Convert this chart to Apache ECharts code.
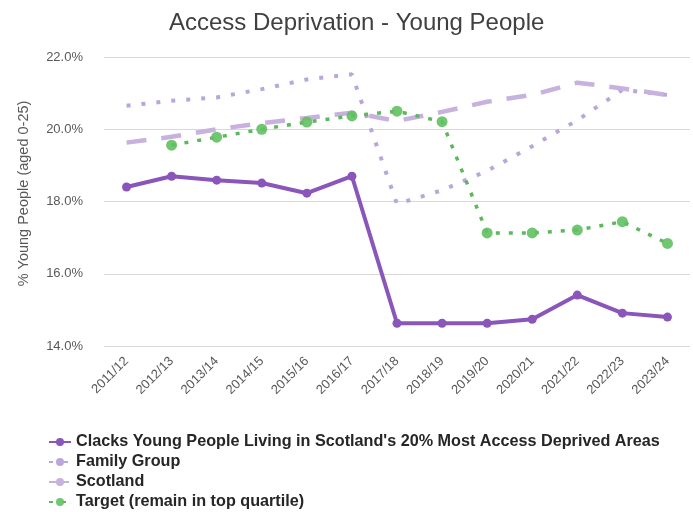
<!DOCTYPE html>
<html>
<head>
<meta charset="utf-8">
<script src="https://cdn.jsdelivr.net/npm/echarts@6/dist/echarts.min.js"></script>
<style>html,body{margin:0;padding:0;background:#fff}#c{width:693px;height:512px}</style>
</head>
<body>
<div id="c"></div>
<script>
var categories = ['2011/12','2012/13','2013/14','2014/15','2015/16','2016/17','2017/18','2018/19','2019/20','2020/21','2021/22','2022/23','2023/24'];
var clacks = [18.40, 18.70, 18.59, 18.51, 18.23, 18.70, 14.63, 14.63, 14.63, 14.74, 15.41, 14.91, 14.80];
var familyGroup = [20.65, 20.79, 20.88, 21.11, 21.38, 21.52, 17.93, 18.31, 18.85, 19.53, 20.25, 21.09, 20.95];
var scotland = [19.63, 19.79, 20.00, 20.17, 20.31, 20.46, 20.23, 20.48, 20.76, 20.95, 21.29, 21.13, 20.95];
var target = [null, 19.56, 19.78, 20.00, 20.20, 20.37, 20.50, 20.21, 17.13, 17.13, 17.21, 17.44, 16.84];
var seriesNames = ["Clacks Young People Living in Scotland's 20% Most Access Deprived Areas", 'Family Group', 'Scotland', 'Target (remain in top quartile)'];

var chart = echarts.init(document.getElementById('c'));
var font = 'Arial, "Liberation Sans", sans-serif';
chart.setOption({
  animation: false,
  backgroundColor: '#fff',
  title: {
    text: 'Access Deprivation - Young People',
    left: 164, top: 6,
    textStyle: {fontFamily: font, fontSize: 24, fontWeight: 'normal', color: '#404040'}
  },
  legend: {
    orient: 'vertical', left: 48, top: 434, height: 120, itemGap: 4,
    itemWidth: 22, itemHeight: 10, padding: 0,
    textStyle: {fontFamily: font, fontSize: 16.2, fontWeight: 'bold', color: '#262626', lineHeight: 16},
    data: seriesNames
  },
  grid: {left: 104, right: 3, top: 57, bottom: 166},
  xAxis: {
    type: 'category', data: categories, boundaryGap: true,
    axisLine: {show: false}, axisTick: {show: false},
    axisLabel: {rotate: 45, fontFamily: font, fontSize: 13, color: '#595959', margin: 13, interval: 0}
  },
  yAxis: {
    type: 'value', min: 14, max: 22, interval: 2,
    name: '% Young People (aged 0-25)', nameLocation: 'middle', nameGap: 73,
    nameTextStyle: {fontFamily: font, fontSize: 14.5, color: '#595959', padding: [0, 0, 0, 16]},
    axisLabel: {formatter: function(v){return v.toFixed(1)+'%';}, fontFamily: font, fontSize: 13, color: '#595959', margin: 21},
    splitLine: {lineStyle: {color: '#d9d9d9', width: 1}},
    axisLine: {show: false}, axisTick: {show: false}
  },
  series: [
    {
      name: seriesNames[1], type: 'line', data: familyGroup, symbol: 'none', z: 2,
      lineStyle: {color: '#b9a6da', width: 4, type: [4, 11]},
      itemStyle: {color: '#b9a6da'}
    },
    {
      name: seriesNames[2], type: 'line', data: scotland, symbol: 'none', z: 2,
      lineStyle: {color: '#c7b1de', width: 4.5, type: [20, 15]},
      itemStyle: {color: '#c7b1de'}
    },
    {
      name: seriesNames[3], type: 'line', data: target, symbol: 'circle', symbolSize: 11, z: 3,
      lineStyle: {color: '#5cb85c', width: 3.5, type: [4, 9]},
      itemStyle: {color: '#62c062', opacity: 0.9}
    },
    {
      name: seriesNames[0], type: 'line', data: clacks, symbol: 'circle', symbolSize: 9, z: 4,
      lineStyle: {color: '#8a56b9', width: 4},
      itemStyle: {color: '#8a56b9'}
    }
  ]
});
</script>
</body>
</html>
